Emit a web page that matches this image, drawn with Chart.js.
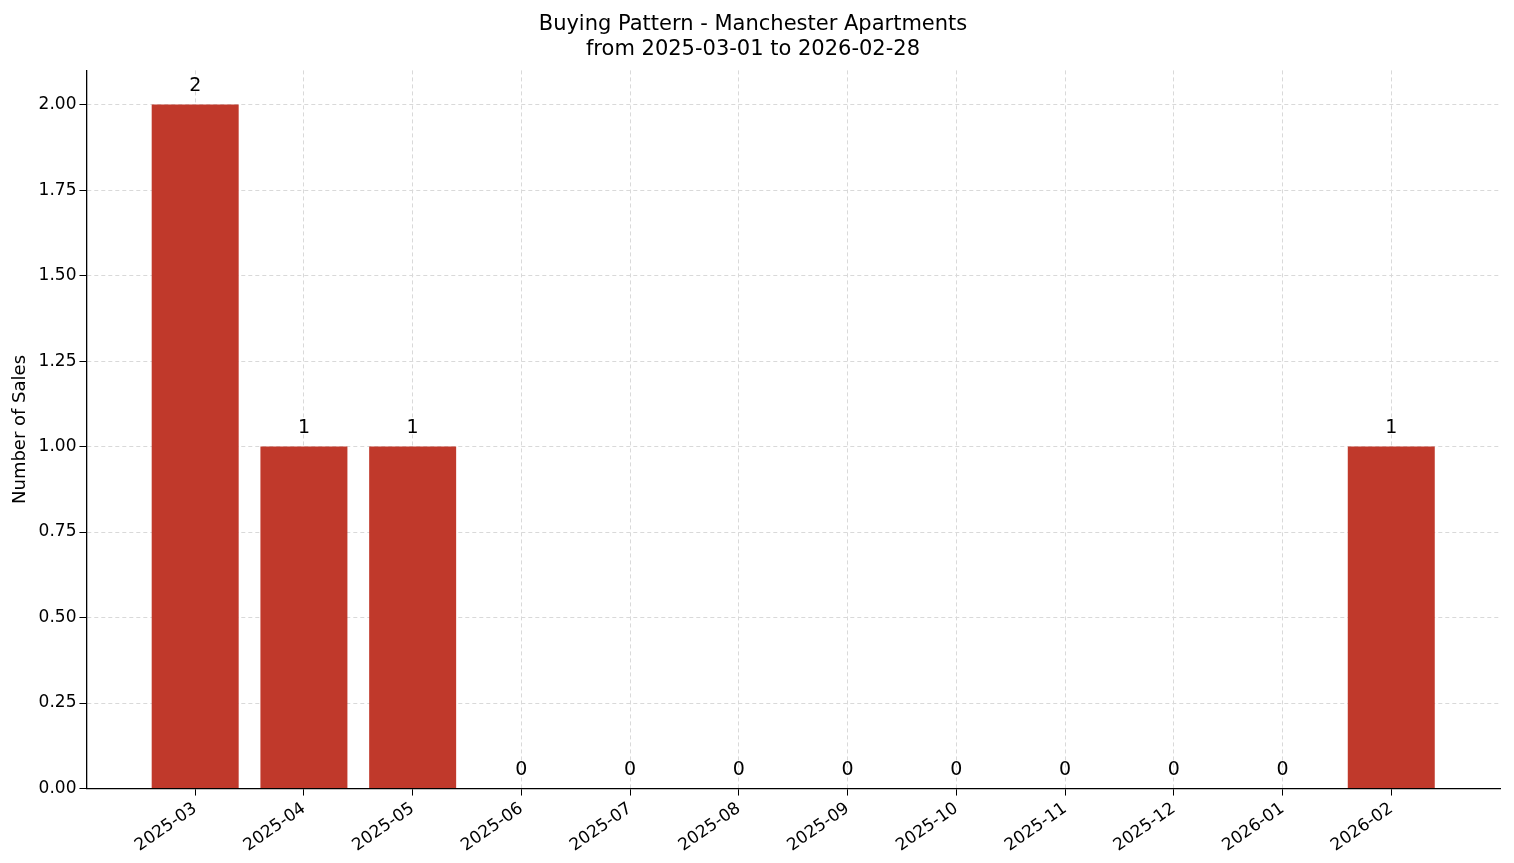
<!DOCTYPE html>
<html><head><meta charset="utf-8">
<script src="https://cdn.jsdelivr.net/npm/chart.js@4/dist/chart.umd.min.js"></script>
<style>html,body{margin:0;padding:0;background:#fff}#w{width:1514px;height:863px}</style>
</head><body><div id="w"><canvas id="c"></canvas></div>
<script>
const categories = ["2025-03","2025-04","2025-05","2025-06","2025-07","2025-08","2025-09","2025-10","2025-11","2025-12","2026-01","2026-02"];
const sales = [2,1,1,0,0,0,0,0,0,0,0,1];
const yTicks = [0,0.25,0.5,0.75,1,1.25,1.5,1.75,2];
const F = "'DejaVu Sans', sans-serif";
const labelPlugin = {
  id:'lbl',
  afterDatasetsDraw(chart){
    const ctx=chart.ctx, meta=chart.getDatasetMeta(0);
    ctx.save(); ctx.font="19px "+F; ctx.fillStyle="#000"; ctx.textAlign="center"; ctx.textBaseline="bottom";
    meta.data.forEach((b,i)=>ctx.fillText(String(sales[i]), b.x, b.y-9));
    ctx.restore();
  }
};
new Chart(document.getElementById('c'),{
  type:'bar',
  data:{datasets:[{data:sales.map((v,i)=>({x:i,y:v})),backgroundColor:'#c0392b',borderWidth:0,barPercentage:0.8,categoryPercentage:1}]},
  options:{
    responsive:true,maintainAspectRatio:false,animation:false,
    layout:{padding:{left:6,right:14,top:6,bottom:4}},
    plugins:{legend:{display:false},tooltip:{enabled:false},
      title:{display:true,text:["Buying Pattern - Manchester Apartments","from 2025-03-01 to 2026-02-28"],color:'#000',font:{family:F,size:21,weight:'normal'},padding:{top:6,bottom:8},lineHeight:1.2}},
    scales:{
      x:{type:'linear',min:-1,max:12,offset:false,
        afterBuildTicks(a){a.ticks=categories.map((_,i)=>({value:i}));},
        ticks:{callback:(v)=>categories[v]??'',maxRotation:35,minRotation:35,color:'#000',font:{family:F,size:17},autoSkip:false},
        grid:{color:'#d9d9d9',tickColor:'#000',tickLength:7,offset:false},
        border:{display:true,color:'#000',width:1.3,dash:[4,3]}},
      y:{min:0,max:2.1,
        afterBuildTicks(a){a.ticks=yTicks.map(v=>({value:v}));},
        ticks:{callback:(v)=>v.toFixed(2),color:'#000',font:{family:F,size:17}},
        title:{display:true,text:'Number of Sales',color:'#000',font:{family:F,size:18}},
        grid:{color:'#d9d9d9',tickColor:'#000',tickLength:7},
        border:{display:true,color:'#000',width:1.3,dash:[4,3]}}
    }
  },
  plugins:[labelPlugin]
});
</script></body></html>
